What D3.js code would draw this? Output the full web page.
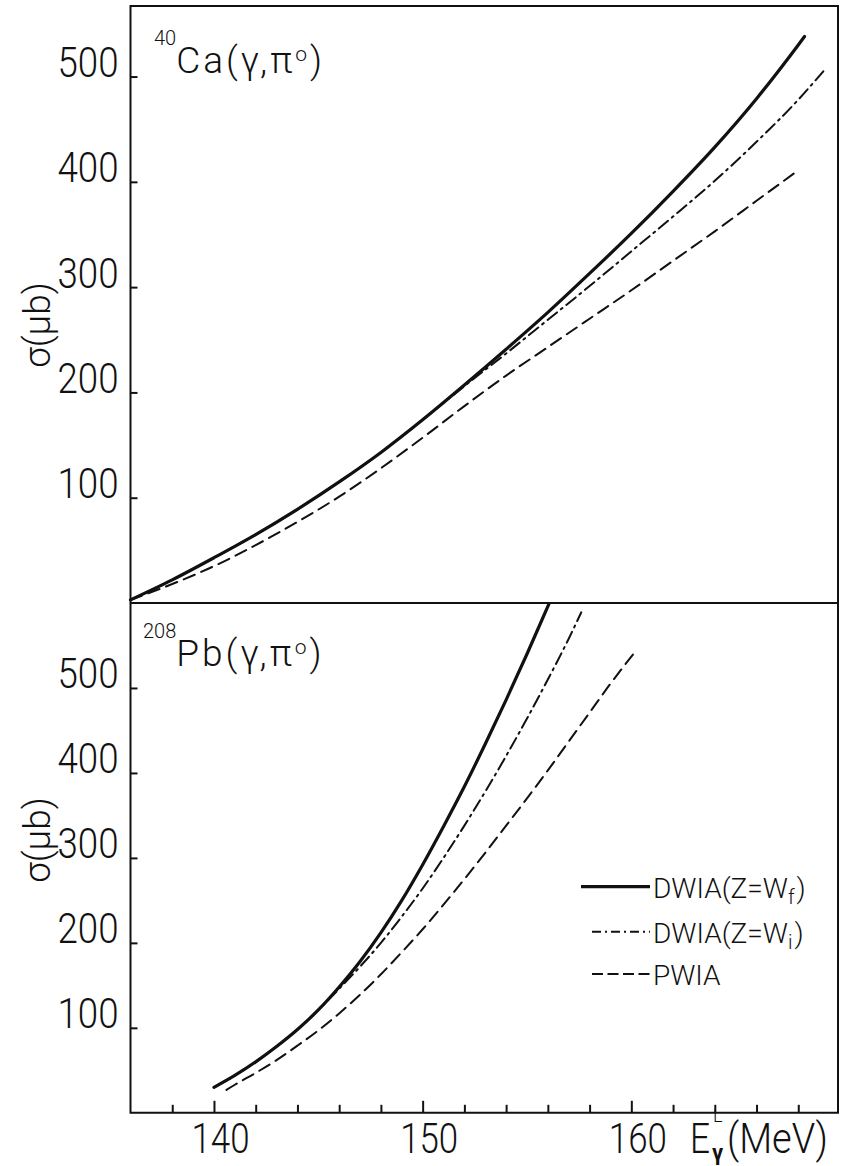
<!DOCTYPE html>
<html>
<head>
<meta charset="utf-8">
<script src="https://cdn.jsdelivr.net/npm/d3@7"></script>
<style>
  body { margin: 0; background: #fff; }
  svg { display: block; }
  .num { font-family: Roboto, "Liberation Sans", sans-serif; font-weight: 300; font-size: 42px; fill: #111; }
  .lbl { font-family: Roboto, "Liberation Sans", sans-serif; font-weight: 300; fill: #111; }
</style>
</head>
<body>
<svg id="chart"></svg>
<script>
// ---- data: [E_gamma (MeV), sigma (microbarn)] ----
const caDWIAf = [[136, 3], [138, 22], [140, 43], [142, 65], [144, 89], [146, 115], [148, 143], [150, 174],
  [152, 207], [154, 241], [156, 276], [158, 313], [160, 351], [162, 391], [164, 433], [166, 479], [168, 530], [168.3, 538]];
const caDWIAi = [[136, 3], [138, 22], [140, 43], [142, 65], [144, 89], [146, 115], [148, 143], [150, 174],
  [152, 206], [154, 237], [156, 269], [158, 301], [160, 334], [162, 367], [164, 401], [166, 438], [168, 478], [169.2, 505]];
const caPWIA = [[136, 3], [138, 18], [140, 35], [142, 55], [144, 77], [146, 101], [148, 128], [150, 157],
  [152, 187], [154, 216], [156, 243], [158, 270], [160, 297], [162, 325], [164, 353], [166, 382], [168, 411]];

const pbDWIAf = [[140, 30], [141, 44], [142, 60], [143, 78], [144, 98], [145, 121], [146, 148], [147, 178],
  [148, 212], [149, 250], [150, 292], [151, 337], [152, 384], [153, 434], [154, 486], [155, 540], [156, 596], [156.2, 607]];
const pbDWIAi = [[140, 30], [141, 44], [142, 60], [143, 78], [144, 98], [145, 121], [146, 146], [147, 172],
  [148, 200], [149, 231], [150, 264], [151, 300], [152, 338], [153, 378], [154, 420], [155, 464], [156, 510], [157, 558], [157.6, 589]];
const pbPWIA = [[140.6, 27], [141, 33], [142, 47], [143, 62], [144, 79], [145, 97], [146, 117], [147, 139],
  [148, 163], [149, 189], [150, 216], [151, 245], [152, 275], [153, 306], [154, 338], [155, 370], [156, 403],
  [157, 437], [158, 471], [159, 505], [160.1, 540]];

const xTicks = d3.range(138, 169, 2);
const xLabels = [140, 150, 160];
const yTicks = [100, 200, 300, 400, 500];
const legendNames = ["DWIA(Z=W", "DWIA(Z=W", "PWIA"];
const legendSubs = ["f", "i", ""];

const width = 850, height = 1166;
const svg = d3.select("#chart").attr("width", width).attr("height", height);

const x = d3.scaleLinear().domain([136, 170]).range([130.5, 840]);
const yTop = d3.scaleLinear().domain([0, 567]).range([603, 6]);
const yBot = d3.scaleLinear().domain([0, 600]).range([1112.8, 603]);
const left = x(136), right = 838;

const styles = {
  solid: { w: 3.2, dash: null },
  dashdot: { w: 2, dash: "12,5,2,5" },
  dashed: { w: 2, dash: "12,7" }
};

// clip for the lower panel (solid curve runs off the top)
svg.append("clipPath").attr("id", "clipBot")
  .append("rect").attr("x", left).attr("y", yBot(600)).attr("width", right - left).attr("height", yBot(0) - yBot(600));

const drawCurve = (g, data, y, st) => {
  const line = d3.line().x(d => x(d[0])).y(d => y(d[1])).curve(d3.curveMonotoneX);
  g.append("path")
    .datum(data)
    .attr("d", line)
    .attr("fill", "none")
    .attr("stroke", "#111")
    .attr("stroke-width", st.w)
    .attr("stroke-dasharray", st.dash)
    .attr("stroke-linecap", "round");
};

const topG = svg.append("g");
drawCurve(topG, caDWIAf, yTop, styles.solid);
drawCurve(topG, caDWIAi, yTop, styles.dashdot);
drawCurve(topG, caPWIA, yTop, styles.dashed);

const botG = svg.append("g").attr("clip-path", "url(#clipBot)");
drawCurve(botG, pbDWIAf, yBot, styles.solid);
drawCurve(botG, pbDWIAi, yBot, styles.dashdot);
drawCurve(botG, pbPWIA, yBot, styles.dashed);

// frame
const frame = d3.path();
frame.moveTo(left, yTop.range()[1]); frame.lineTo(right, yTop.range()[1]);
frame.lineTo(right, yBot(0)); frame.lineTo(left, yBot(0)); frame.closePath();
frame.moveTo(left, yBot(600)); frame.lineTo(right, yBot(600));
svg.append("path").attr("d", frame.toString()).attr("fill", "none").attr("stroke", "#111").attr("stroke-width", 2);

// y axes
const drawY = (y) => {
  const g = svg.append("g").attr("transform", `translate(${left},0)`)
    .call(d3.axisLeft(y).tickValues(yTicks).tickSizeInner(-7).tickSizeOuter(0).tickPadding(12));
  g.select(".domain").remove();
  g.selectAll(".tick line").attr("stroke", "#111").attr("stroke-width", 2);
  g.selectAll(".tick text").attr("class", "num").attr("dy", "0")
    .attr("font-family", null).attr("font-size", null)
    .attr("textLength", 61).attr("lengthAdjust", "spacingAndGlyphs");
};
drawY(yTop);
drawY(yBot);

// x axis
const gx = svg.append("g").attr("transform", `translate(0,${yBot(0)})`)
  .call(d3.axisBottom(x).tickValues(xTicks).tickSizeInner(-8).tickSizeOuter(0)
    .tickFormat(d => xLabels.includes(d) ? d : ""));
gx.select(".domain").remove();
gx.selectAll(".tick line").attr("stroke", "#111").attr("stroke-width", 2)
  .attr("y2", d => xLabels.includes(d) ? -12 : -8);
gx.selectAll(".tick text").attr("class", "num").attr("y", 40).attr("dy", "0").attr("dx", 6)
  .attr("font-family", null).attr("font-size", null)
  .attr("textLength", d => xLabels.includes(d) ? 58 : null).attr("lengthAdjust", "spacingAndGlyphs");

// x axis title  E^L_gamma (MeV)
svg.append("text").attr("class", "num").attr("x", 690).attr("y", 1153)
  .attr("textLength", 20).attr("lengthAdjust", "spacingAndGlyphs").text("E");
svg.append("text").attr("class", "num").attr("x", 713).attr("y", 1122).style("font-size", "18px").text("L");
svg.append("text").attr("class", "lbl").attr("x", 712).attr("y", 1160).style("font-size", "22px").style("font-weight", "bold").text("γ");
svg.append("text").attr("class", "num").attr("x", 727).attr("y", 1153)
  .attr("textLength", 101).attr("lengthAdjust", "spacingAndGlyphs").text("(MeV)");

// y axis titles
[[yTop, 325], [yBot, 840]].forEach(([y, cy]) => {
  svg.append("text").attr("class", "lbl")
    .attr("transform", `translate(50,${cy}) rotate(-90)`)
    .attr("text-anchor", "middle")
    .style("font-size", "37px")
    .text("σ(μb)");
});

// panel titles
const title = (xx, yy, mass, rest) => {
  const t = svg.append("text").attr("class", "lbl").attr("x", xx).attr("y", yy - 28).style("font-size", "20px");
  t.append("tspan").text(mass);
  t.append("tspan").attr("dy", 28).style("font-size", "37px").style("letter-spacing", "3px").text(rest);
  t.append("tspan").attr("dy", -12).style("font-size", "21px").text("o");
  t.append("tspan").attr("dy", 12).attr("dx", 3).style("font-size", "37px").text(")");
};
title(154, 73, "40", "Ca(γ,π");
title(143, 666, "208", "Pb(γ,π");

// legend
const legendStyles = [styles.solid, styles.dashdot, styles.dashed];
const legendY = [886.7, 931.7, 974];
const legendX0 = [581, 592, 592];
legendNames.forEach((name, i) => {
  const st = legendStyles[i];
  svg.append("line")
    .attr("x1", legendX0[i]).attr("x2", 650)
    .attr("y1", legendY[i]).attr("y2", legendY[i])
    .attr("stroke", "#111").attr("stroke-width", st.w)
    .attr("stroke-dasharray", i === 1 ? "9,4,2,4" : (i === 2 ? "11,4.5" : null));
  const t = svg.append("text").attr("class", "lbl").attr("x", 653).attr("y", legendY[i] + 11)
    .style("font-size", "28px").text(name);
  if (legendSubs[i]) {
    t.append("tspan").attr("dy", 6).style("font-size", "20px").text(legendSubs[i]);
    t.append("tspan").attr("dy", -6).attr("dx", 2).text(")");
  }
});
</script>
</body>
</html>
